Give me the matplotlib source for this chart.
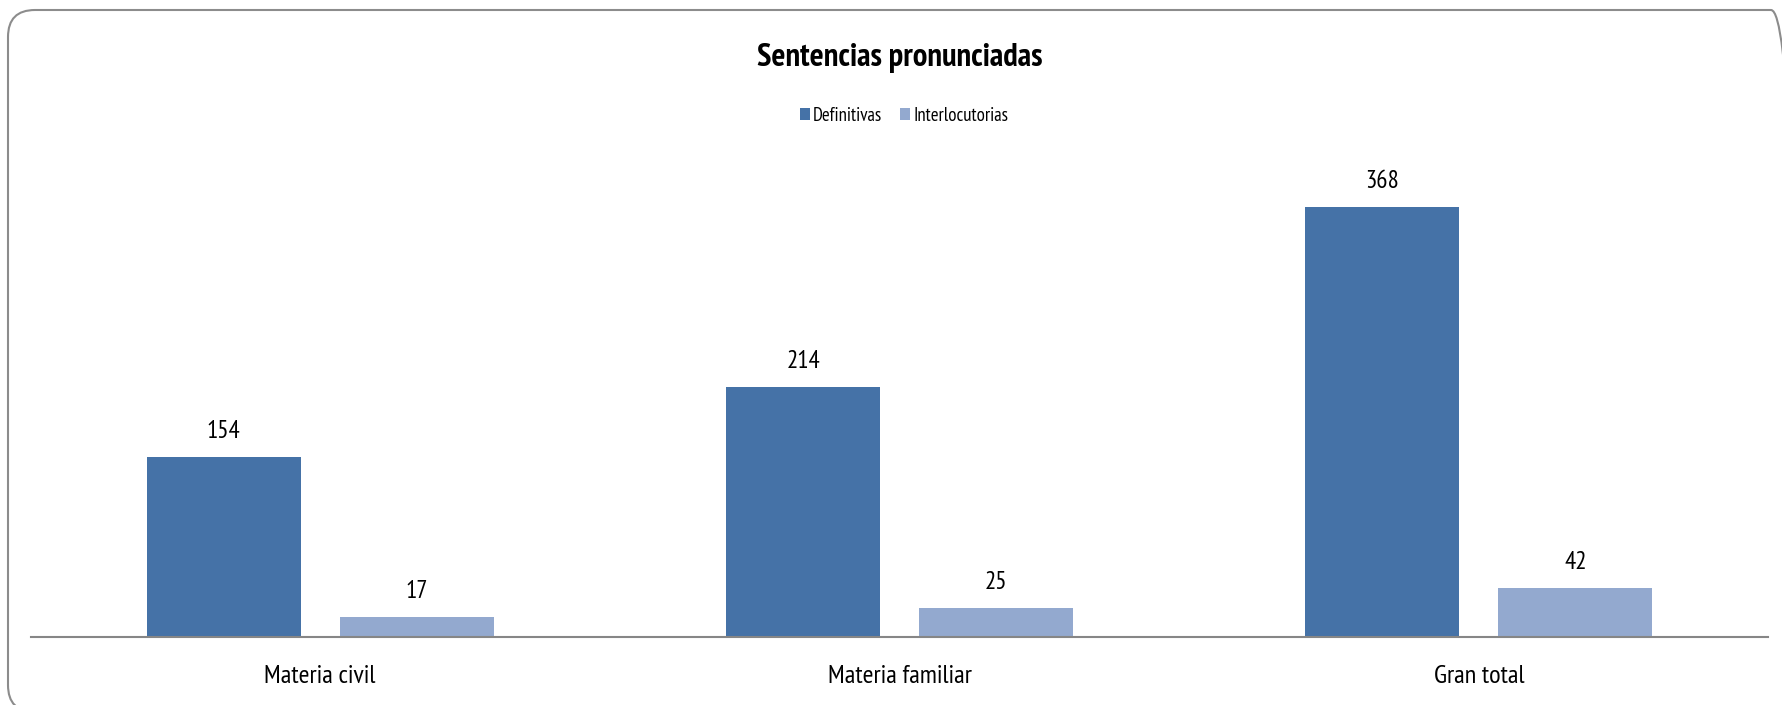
import matplotlib
matplotlib.use("Agg")
import matplotlib.pyplot as plt
import numpy as np
from matplotlib.patches import FancyBboxPatch

categories = ["Materia civil", "Materia familiar", "Gran total"]
definitivas = [154, 214, 368]
interlocutorias = [17, 25, 42]
series_names = ["Definitivas", "Interlocutorias"]
title = "Sentencias pronunciadas"

FONT = ["PT Sans Narrow", "Fira Sans Condensed", "Archivo Narrow", "DejaVu Sans"]
plt.rcParams["font.family"] = FONT

W, H = 1783, 705
fig = plt.figure(figsize=(W / 100, H / 100), dpi=100)

# rounded border
border = FancyBboxPatch((0.08, -0.07), 17.9, 7.02,
                        boxstyle="round,pad=0,rounding_size=0.27",
                        transform=fig.dpi_scale_trans, fill=False,
                        edgecolor="#8c8c8c", linewidth=1.5, clip_on=False)
fig.patches.append(border)

ax = fig.add_axes([30.5 / W, (H - 637) / H, (1768.5 - 30.5) / W, (637 - 169.4) / H])
x = np.arange(len(categories))
bw = 0.266
off = 0.1665
c1, c2 = "#4572A7", "#93A9CF"
b1 = ax.bar(x - off, definitivas, bw, color=c1, label=series_names[0])
b2 = ax.bar(x + off, interlocutorias, bw, color=c2, label=series_names[1])

for bars, vals in ((b1, definitivas), (b2, interlocutorias)):
    for r, v in zip(bars, vals):
        ax.annotate(str(v), (r.get_x() + r.get_width() / 2, v),
                    xytext=(0, 10), textcoords="offset points",
                    ha="center", va="bottom", fontsize=18, color="#000000")

ax.set_xlim(-0.5, 2.5)
ax.set_ylim(0, 400)
ax.set_xticks(x)
ax.set_xticklabels(categories, fontsize=19)
ax.tick_params(axis="x", length=0, pad=20)
ax.set_yticks([])
for s in ("top", "right", "left"):
    ax.spines[s].set_visible(False)
ax.spines["bottom"].set_color("#868686")
ax.spines["bottom"].set_linewidth(1.5)

fig.text(900 / W, (H - 58) / H, title, ha="center", va="center",
         fontsize=23.5, fontweight="bold")

leg = fig.legend(handles=[b1, b2], labels=series_names, loc="center",
                 bbox_to_anchor=(904 / W, (H - 116) / H), ncol=2, frameon=False,
                 fontsize=13.5, handlelength=0.55, handleheight=0.6,
                 handletextpad=0.15, columnspacing=0.95)

fig.savefig("out.png", dpi=100)
